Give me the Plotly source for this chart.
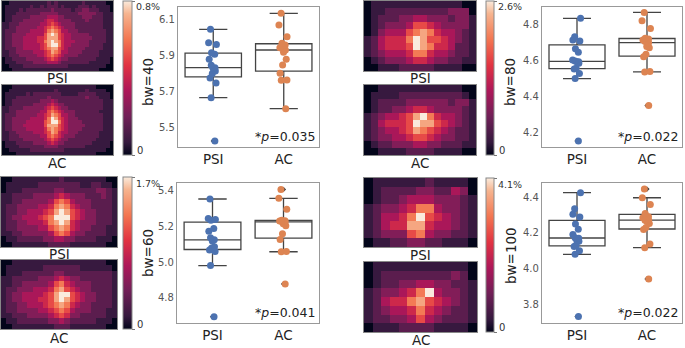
import plotly.graph_objects as go

W, H = 685, 348

groups = ["PSI", "AC"]
bw_labels = ["bw=40", "bw=80", "bw=60", "bw=100"]
cbar_max = [0.8, 2.6, 1.7, 4.1]          # percent
p_text = ["0.035", "0.022", "0.041", "0.022"]

yticks_bw40 = [5.5, 5.7, 5.9, 6.1]
yticks_bw80 = [4.2, 4.4, 4.6, 4.8]
yticks_bw60 = [4.8, 5.0, 5.2, 5.4]
yticks_bw100 = [3.8, 4.0, 4.2, 4.4]

# per-subject metric values
psi_bw40 = [6.048, 5.974, 5.963, 5.918, 5.909, 5.882, 5.848, 5.835, 5.832, 5.817, 5.802, 5.778, 5.750, 5.668, 5.428]
ac_bw40 = [6.137, 6.072, 6.007, 5.970, 5.961, 5.946, 5.943, 5.933, 5.920, 5.882, 5.850, 5.804, 5.767, 5.765, 5.607]
psi_bw80 = [4.837, 4.735, 4.717, 4.711, 4.668, 4.648, 4.606, 4.600, 4.596, 4.596, 4.587, 4.560, 4.555, 4.531, 4.502, 4.156]
ac_bw80 = [4.870, 4.824, 4.781, 4.726, 4.722, 4.717, 4.708, 4.702, 4.680, 4.674, 4.637, 4.624, 4.541, 4.539, 4.352]
psi_bw60 = [5.355, 5.245, 5.239, 5.236, 5.189, 5.174, 5.137, 5.125, 5.118, 5.086, 5.079, 5.068, 5.060, 4.980, 4.692]
ac_bw60 = [5.409, 5.359, 5.297, 5.235, 5.233, 5.231, 5.228, 5.226, 5.215, 5.205, 5.160, 5.127, 5.060, 5.058, 4.877]
psi_bw100 = [4.424, 4.335, 4.304, 4.289, 4.250, 4.220, 4.192, 4.173, 4.171, 4.160, 4.154, 4.132, 4.125, 4.101, 4.081, 3.735]
ac_bw100 = [4.444, 4.396, 4.358, 4.308, 4.290, 4.284, 4.271, 4.271, 4.265, 4.252, 4.231, 4.219, 4.138, 4.118, 3.944]

# heat-map intensity codes (0..9), top row first; code -> fraction of colour-bar max
level_fraction = [0.0, 0.09, 0.19, 0.30, 0.41, 0.52, 0.64, 0.76, 0.88, 1.0]

psi_map40 = [
    "00111111111112121111111211111100",
    "01111111211212221211112221211110",
    "01111212222222322222122332221110",
    "01112222222333332222223333322111",
    "01122222333334443322222333222111",
    "01122233333345543333222232222111",
    "11222333333445654333322222222111",
    "11223333334456765433322222222111",
    "12223333444457876443332222222211",
    "12233334444468986544333332222211",
    "12233344445568886544333333222211",
    "12233344445578987544433332222211",
    "12233344444568997544333332222111",
    "12223344444567886543333322222111",
    "11223333344456876443333222221111",
    "11222333334456765433332222221111",
    "01122223333345654332222222211110",
    "01112222233334443222222221111110",
    "00111122222222222221111111111100",
    "00011111111111111111111111110000",
]
ac_map40 = [
    "00011111111111111111111111100000",
    "00111111111111121111111121111100",
    "01111112122222222111112222211110",
    "01112222222223222222222232221110",
    "01122222222333432222222222222111",
    "01122222233334543322222222222111",
    "11222233333345654332222222222111",
    "11223333333446765433322222221111",
    "12223333334456876443322222222111",
    "12233333444457986543332222222111",
    "12233334444467997543333222222111",
    "12233344444468886543333322222111",
    "12233334444457876543333222222111",
    "11223333344456875443332222221111",
    "11222333333446765433322222221111",
    "11222233333345654332222222211111",
    "01112222233334543322222222111110",
    "01111222222233332222222211111110",
    "00111111222222222211111111111100",
    "00001111111111111111111111100000",
]
psi_map60 = [
    "0011111111121111111100",
    "0111111222222221122110",
    "0111222222332222223321",
    "1122223333454333222321",
    "1122333334676433322221",
    "1223333445787543322221",
    "1223344456898654332221",
    "1233444567999654332221",
    "1223344457898543332221",
    "1223333446787543322211",
    "1122333334676433222211",
    "0112222233443322221110",
    "0011111112222111111100",
]
ac_map60 = [
    "0011111111111111111100",
    "0111111122222221111110",
    "0111222222332222222221",
    "1122222333454332222221",
    "1122333334675433322221",
    "1223334445786543322221",
    "1233444456899654332221",
    "1233444556898654332221",
    "1223344456787543322221",
    "1223333445676433322211",
    "1122233334565332222211",
    "0112222223343222221110",
    "0011111111222111111100",
]
psi_map80 = [
    "0111111111111100",
    "0112222222223330",
    "0122233443332331",
    "0123334665433331",
    "0134446787544321",
    "1245557986654321",
    "1245556987554221",
    "1234445775443221",
    "0123334554332211",
    "0011122222111100",
]
ac_map80 = [
    "0011111111111100",
    "0111122222222210",
    "0122223333332331",
    "0122334554333321",
    "1234456897544321",
    "1245556988654321",
    "1234456876543221",
    "1233445665433221",
    "0122333443322211",
    "0011112222111100",
]
psi_map100 = [
    "0111111211110",
    "0122223322430",
    "0122344433321",
    "1233457743321",
    "1244579654321",
    "1245588544321",
    "1233367433221",
    "0112233221110",
]
ac_map100 = [
    "0111111111110",
    "0122222222320",
    "0122334433221",
    "1233457943321",
    "1245578654321",
    "1234457543221",
    "1223346432221",
    "0111222211110",
]

rocket = [[0.0, "#03051A"], [0.083, "#35193E"], [0.25, "#701F57"], [0.417, "#AD1759"],
          [0.583, "#E13342"], [0.75, "#F37651"], [0.917, "#F6B48F"], [1.0, "#FAEBDD"]]
BLUE, ORANGE = "#4C72B0", "#DD8452"
FONT = "DejaVu Sans"


def grid(rows, vmax):
    return [[level_fraction[int(c)] * vmax for c in r] for r in rows]


panels = [
    dict(pm=psi_map40, am=ac_map40, psi=psi_bw40, ac=ac_bw40, k=0, ticks=yticks_bw40,
         hx=(2, 113), py=(1, 71), ay=(85, 155), plab=78, alab=163, cbx=(123, 132), cby=(1, 155),
         bw=(148, 82), bx=(178, 319), by=(7, 147), yr=(5.394, 6.172)),
    dict(pm=psi_map80, am=ac_map80, psi=psi_bw80, ac=ac_bw80, k=1, ticks=yticks_bw80,
         hx=(364, 476), py=(1, 71), ay=(85, 155), plab=78, alab=163, cbx=(486, 494), cby=(1, 155),
         bw=(510, 82), bx=(542, 682), by=(7, 147), yr=(4.122, 4.9)),
    dict(pm=psi_map60, am=ac_map60, psi=psi_bw60, ac=ac_bw60, k=2, ticks=yticks_bw60,
         hx=(1, 117), py=(177, 247), ay=(260, 329), plab=254, alab=338, cbx=(123, 132), cby=(177, 329),
         bw=(148, 253), bx=(177, 319), by=(183, 323), yr=(4.657, 5.445)),
    dict(pm=psi_map100, am=ac_map100, psi=psi_bw100, ac=ac_bw100, k=3, ticks=yticks_bw100,
         hx=(364, 477), py=(178, 247), ay=(262, 332), plab=255, alab=340, cbx=(486, 494), cby=(178, 332),
         bw=(511, 256), bx=(542, 682), by=(183, 323), yr=(3.699, 4.478)),
]

fig = go.Figure()
layout = dict(width=W, height=H, margin=dict(l=0, r=0, t=0, b=0), paper_bgcolor="white",
              plot_bgcolor="white", showlegend=False, boxmode="overlay",
              font=dict(family=FONT, color="#222"))
annotations = []


def names(n):
    return ("x" if n == 1 else f"x{n}"), ("y" if n == 1 else f"y{n}"), \
           ("xaxis" if n == 1 else f"xaxis{n}"), ("yaxis" if n == 1 else f"yaxis{n}")


def xd(a, b):
    return [a / W, b / W]


def yd(a, b):
    return [1 - b / H, 1 - a / H]


for i, p in enumerate(panels):
    k = p["k"]
    vmax = cbar_max[k]
    ca = "coloraxis" if i == 0 else f"coloraxis{i + 1}"
    layout[ca] = dict(
        colorscale=rocket, cmin=0, cmax=vmax,
        colorbar=dict(x=p["cbx"][0] / W, xanchor="left", y=1 - p["cby"][0] / H, yanchor="top",
                      len=p["cby"][1] - p["cby"][0], lenmode="pixels",
                      thickness=p["cbx"][1] - p["cbx"][0], thicknessmode="pixels",
                      xpad=0, ypad=0, outlinewidth=1, outlinecolor="#888",
                      tickvals=[0, vmax], ticks="outside", ticklen=3, tickcolor="#777",
                      showticklabels=False))
    annotations.append(dict(text=f"{vmax}%", x=(p["cbx"][1] + 2) / W, y=1 - (p["cby"][0] + 6) / H,
                            xref="paper", yref="paper", xanchor="left", yanchor="middle",
                            showarrow=False, font=dict(size=9.5, color="#333")))
    annotations.append(dict(text="0", x=(p["cbx"][1] + 3) / W, y=1 - (p["cby"][1] - 5) / H,
                            xref="paper", yref="paper", xanchor="left", yanchor="middle",
                            showarrow=False, font=dict(size=10, color="#333")))

    for j, (rows, yy, lab, ly) in enumerate([(p["pm"], p["py"], groups[0], p["plab"]),
                                            (p["am"], p["ay"], groups[1], p["alab"])]):
        n = 3 * i + j + 1
        xa, ya, xk, yk = names(n)
        z = grid(rows, vmax)
        fig.add_trace(go.Heatmap(z=z, coloraxis=ca, xaxis=xa, yaxis=ya, hoverinfo="skip"))
        ncol, nrow = len(rows[0]), len(rows)
        layout[xk] = dict(domain=xd(*p["hx"]), range=[-0.5, ncol - 0.5], anchor=ya,
                          showticklabels=False, showgrid=False, zeroline=False, ticks="",
                          showline=True, mirror=True, linecolor="#888", linewidth=1)
        layout[yk] = dict(domain=yd(*yy), range=[nrow - 0.5, -0.5], anchor=xa,
                          showticklabels=False, showgrid=False, zeroline=False, ticks="",
                          showline=True, mirror=True, linecolor="#888", linewidth=1)
        annotations.append(dict(text=lab, x=(p["hx"][0] + p["hx"][1]) / 2 / W, y=1 - ly / H,
                                xref="paper", yref="paper", xanchor="center", yanchor="middle",
                                showarrow=False, font=dict(size=13.5, color="#222")))

    n = 3 * i + 3
    xa, ya, xk, yk = names(n)
    for g, vals, col in [(groups[0], p["psi"], BLUE), (groups[1], p["ac"], ORANGE)]:
        fig.add_trace(go.Box(y=vals, x=[g] * len(vals), xaxis=xa, yaxis=ya, width=0.8,
                             quartilemethod="linear", boxpoints="outliers", pointpos=0, jitter=0,
                             whiskerwidth=0.5, fillcolor="white",
                             line=dict(color="#444", width=1.3),
                             marker=dict(symbol="diamond", size=4, color="#3d3d3d"),
                             hoverinfo="skip"))
        fig.add_trace(go.Box(y=vals, x=[g] * len(vals), xaxis=xa, yaxis=ya, width=0.8,
                             boxpoints="all", pointpos=0, jitter=0.22,
                             fillcolor="rgba(0,0,0,0)", line=dict(color="rgba(0,0,0,0)", width=0),
                             marker=dict(size=7, color=col), hoverinfo="skip"))
    layout[xk] = dict(domain=xd(*p["bx"]), anchor=ya, type="category", categoryarray=groups,
                      range=[-0.5, 1.5], showgrid=False, zeroline=False, ticks="",
                      showline=True, mirror=True, linecolor="#999", linewidth=1.2,
                      tickfont=dict(size=13.5, color="#222"))
    layout[yk] = dict(domain=yd(*p["by"]), anchor=xa, range=list(p["yr"]),
                      tickvals=p["ticks"], ticktext=[f"{t:.1f}" for t in p["ticks"]],
                      showgrid=False, zeroline=False, ticks="",
                      showline=True, mirror=True, linecolor="#999",
                      linewidth=1.2, tickfont=dict(size=10, color="#555"))
    annotations.append(dict(text="*<i>p</i>=" + p_text[k], x=(p["bx"][1] - 2) / W,
                            y=1 - (p["by"][1] - 1) / H, xref="paper", yref="paper",
                            xanchor="right", yanchor="bottom", showarrow=False,
                            font=dict(size=12.5, color="#222")))
    annotations.append(dict(text=bw_labels[k], x=p["bw"][0] / W, y=1 - p["bw"][1] / H,
                            xref="paper", yref="paper", xanchor="center", yanchor="middle",
                            textangle=-90, showarrow=False, font=dict(size=13.5, color="#222")))

layout["annotations"] = annotations
fig.update_layout(**layout)
fig.write_html("out.html", config={"displayModeBar": False},
               post_script="document.body.style.margin='0';")
